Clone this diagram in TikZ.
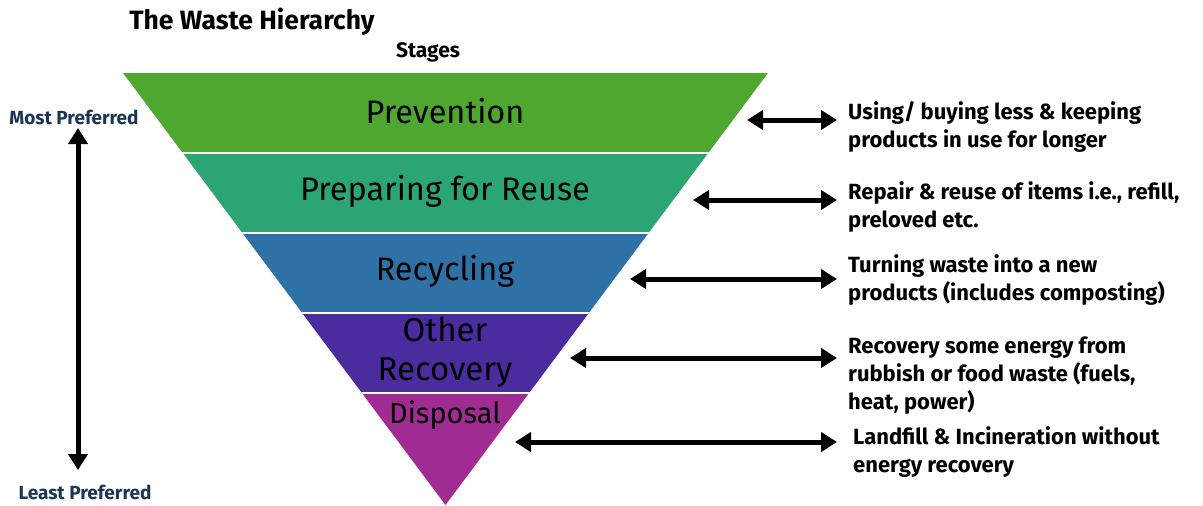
\documentclass[tikz,border=0pt]{standalone}
\usepackage{fontspec}
\setmainfont{Fira Sans}
\usetikzlibrary{arrows.meta}
\definecolor{prevgreen}{HTML}{4EA72E}
\definecolor{reusegreen}{HTML}{2CA574}
\definecolor{recblue}{HTML}{2E71A6}
\definecolor{recpurple}{HTML}{4A2C9E}
\definecolor{dispmagenta}{HTML}{A02B93}
\definecolor{prefnavy}{HTML}{1B3556}
\tikzset{
  stagelabel/.style={font=\fontsize{32.5}{34}\selectfont, inner sep=0pt},
  notetext/.style={font=\fontsize{22}{28}\selectfont\bfseries, align=left, anchor=west, inner sep=0pt},
  preflabel/.style={font=\fontsize{19}{22}\selectfont\bfseries, text=prefnavy, inner sep=0pt},
  linkarrow/.style={{Triangle[length=16pt,width=19pt]}-{Triangle[length=16pt,width=19pt]}, line width=5pt},
}
\begin{document}
\begin{tikzpicture}[x=1pt, y=-1pt]
  \useasboundingbox (0,0) rectangle (1203,506);
  \begin{scope}
    \clip (123,73) -- (768,73) -- (445.5,505) -- cycle;
    \fill[prevgreen] (100,73) rectangle (800,153);
    \fill[reusegreen] (100,153) rectangle (800,233);
    \fill[recblue] (100,233) rectangle (800,313);
    \fill[recpurple] (100,313) rectangle (800,393);
    \fill[dispmagenta] (100,393) rectangle (800,510);
    \foreach \yy in {153,233,313,393}
      \draw[white, line width=2pt] (100,\yy) -- (800,\yy);
  \end{scope}

  \node[font=\fontsize{26.5}{30}\selectfont\bfseries, inner sep=0pt] (title) at (252,22) {The Waste Hierarchy};
  \node[font=\fontsize{21}{24}\selectfont\bfseries, inner sep=0pt] (stages) at (428,52) {Stages};

  \node[stagelabel] (prevention) at (445,111) {Prevention};
  \node[stagelabel] (reuse) at (445,191) {Preparing for Reuse};
  \node[stagelabel] (recycling) at (445,271) {Recycling};
  \node[stagelabel, align=center, font=\fontsize{33}{39}\selectfont] (recovery) at (445,352) {Other\\Recovery};
  \node[stagelabel, font=\fontsize{29}{32}\selectfont] (disposal) at (445,415) {Disposal};

  \node[preflabel] (most) at (74,117) {Most Preferred};
  \node[preflabel] (least) at (85,492) {Least Preferred};
  \coordinate (mosttip) at (78,128);
  \coordinate (leasttip) at (78,470);
  \draw[linkarrow] (mosttip) -- (leasttip);

  \node[notetext] (note1) at (848,127) {Using/ buying less \& keeping\\products in use for longer};
  \node[notetext] (note2) at (848,207) {Repair \& reuse of items i.e., refill,\\preloved etc.};
  \node[notetext] (note3) at (848,280) {Turning waste into a new\\products (includes composting)};
  \node[notetext] (note4) at (848,376) {Recovery some energy from\\rubbish or food waste (fuels,\\heat, power)};
  \node[notetext] (note5) at (853,452) {Landfill \& Incineration without\\energy recovery};

  \coordinate (edge1) at (747,120);
  \coordinate (edge2) at (693,200);
  \coordinate (edge3) at (630,279);
  \coordinate (edge4) at (570,358);
  \coordinate (edge5) at (515,442);
  \coordinate (end1) at (837,120);
  \coordinate (end2) at (837,200);
  \coordinate (end3) at (837,279);
  \coordinate (end4) at (837,358);
  \coordinate (end5) at (837,442);
  \draw[linkarrow] (edge1) -- (end1);
  \draw[linkarrow] (edge2) -- (end2);
  \draw[linkarrow] (edge3) -- (end3);
  \draw[linkarrow] (edge4) -- (end4);
  \draw[linkarrow] (edge5) -- (end5);
\end{tikzpicture}
\end{document}
